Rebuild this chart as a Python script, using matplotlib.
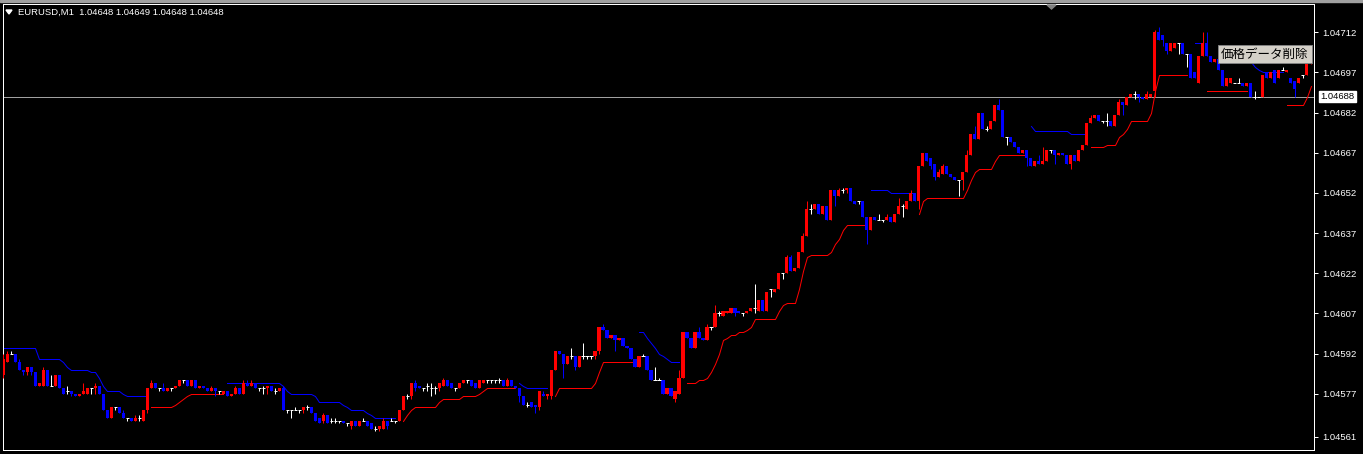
import matplotlib
matplotlib.use("Agg")
import matplotlib.pyplot as plt
import numpy as np
from matplotlib.patches import Polygon, Rectangle
from matplotlib.transforms import Affine2D

# ---------------- data (EURUSD M1 candles) ----------------
open_ = [
1.04584,1.04589,1.04592,1.04592,1.04589,1.04586,1.04585,1.04587,1.04585,1.04580,
1.04580,1.04586,1.04580,1.04580,1.04584,1.04579,1.04578,1.04578,1.04577,1.04576,
1.04577,1.04577,1.04579,1.04579,1.04580,1.04577,1.04571,1.04568,1.04572,1.04572,
1.04570,1.04568,1.04568,1.04567,1.04568,1.04567,1.04571,1.04579,1.04581,1.04579,
1.04579,1.04578,1.04579,1.04579,1.04580,1.04582,1.04582,1.04580,1.04582,1.04579,
1.04580,1.04579,1.04578,1.04579,1.04578,1.04577,1.04578,1.04576,1.04577,1.04579,
1.04577,1.04581,1.04580,1.04581,1.04579,1.04579,1.04579,1.04580,1.04578,1.04578,
1.04579,1.04571,1.04571,1.04571,1.04571,1.04571,1.04572,1.04572,1.04570,1.04568,
1.04567,1.04569,1.04567,1.04567,1.04567,1.04567,1.04566,1.04565,1.04567,1.04565,
1.04567,1.04567,1.04566,1.04564,1.04564,1.04564,1.04567,1.04567,1.04567,1.04567,
1.04571,1.04576,1.04576,1.04581,1.04580,1.04579,1.04580,1.04579,1.04579,1.04579,
1.04580,1.04582,1.04581,1.04579,1.04579,1.04581,1.04582,1.04582,1.04581,1.04579,
1.04581,1.04582,1.04582,1.04582,1.04582,1.04582,1.04580,1.04582,1.04580,1.04579,
1.04576,1.04573,1.04574,1.04573,1.04572,1.04577,1.04576,1.04576,1.04586,1.04593,
1.04592,1.04588,1.04591,1.04591,1.04587,1.04591,1.04591,1.04591,1.04591,1.04593,
1.04602,1.04601,1.04598,1.04599,1.04597,1.04598,1.04595,1.04594,1.04590,1.04587,
1.04591,1.04591,1.04586,1.04582,1.04582,1.04582,1.04577,1.04579,1.04575,1.04577,
1.04583,1.04600,1.04598,1.04594,1.04600,1.04598,1.04597,1.04602,1.04602,1.04607,
1.04606,1.04607,1.04607,1.04609,1.04608,1.04607,1.04607,1.04608,1.04609,1.04608,
1.04612,1.04608,1.04616,1.04615,1.04616,1.04622,1.04622,1.04628,1.04623,1.04624,
1.04630,1.04636,1.04646,1.04646,1.04648,1.04644,1.04647,1.04642,1.04653,1.04651,
1.04653,1.04653,1.04654,1.04649,1.04649,1.04649,1.04643,1.04638,1.04643,1.04642,
1.04642,1.04642,1.04643,1.04641,1.04644,1.04647,1.04646,1.04649,1.04652,1.04649,
1.04662,1.04667,1.04665,1.04663,1.04658,1.04659,1.04662,1.04659,1.04658,1.04657,
1.04657,1.04660,1.04666,1.04674,1.04672,1.04682,1.04676,1.04676,1.04679,1.04685,
1.04683,1.04673,1.04673,1.04671,1.04669,1.04667,1.04668,1.04665,1.04662,1.04664,
1.04663,1.04664,1.04668,1.04668,1.04666,1.04667,1.04666,1.04663,1.04666,1.04664,
1.04668,1.04670,1.04678,1.04680,1.04681,1.04679,1.04679,1.04679,1.04677,1.04681,
1.04686,1.04685,1.04688,1.04689,1.04689,1.04688,1.04687,1.04688,1.04690,1.04712,
1.04711,1.04708,1.04705,1.04706,1.04708,1.04708,1.04704,1.04704,1.04697,1.04693,
1.04703,1.04708,1.04703,1.04701,1.04702,1.04698,1.04692,1.04693,1.04693,1.04693,
1.04693,1.04692,1.04693,1.04688,1.04688,1.04688,1.04697,1.04695,1.04698,1.04695,
1.04698,1.04697,1.04695,1.04694,1.04693,1.04696,1.04696,1.04700,
]
high = [
1.04592,1.04593,1.04593,1.04592,1.04590,1.04586,1.04587,1.04587,1.04585,1.04581,
1.04587,1.04586,1.04584,1.04584,1.04584,1.04579,1.04580,1.04578,1.04577,1.04577,
1.04581,1.04579,1.04579,1.04581,1.04580,1.04577,1.04571,1.04572,1.04572,1.04572,
1.04571,1.04568,1.04568,1.04569,1.04569,1.04571,1.04579,1.04582,1.04581,1.04579,
1.04581,1.04579,1.04579,1.04580,1.04582,1.04582,1.04582,1.04582,1.04582,1.04580,
1.04580,1.04579,1.04580,1.04579,1.04578,1.04578,1.04578,1.04577,1.04580,1.04579,
1.04582,1.04582,1.04582,1.04581,1.04579,1.04580,1.04580,1.04580,1.04579,1.04579,
1.04580,1.04571,1.04571,1.04572,1.04571,1.04572,1.04573,1.04572,1.04570,1.04568,
1.04570,1.04569,1.04568,1.04568,1.04567,1.04567,1.04566,1.04567,1.04567,1.04567,
1.04568,1.04567,1.04566,1.04565,1.04565,1.04568,1.04567,1.04568,1.04567,1.04571,
1.04576,1.04577,1.04581,1.04582,1.04580,1.04579,1.04581,1.04581,1.04580,1.04581,
1.04583,1.04582,1.04581,1.04579,1.04581,1.04582,1.04582,1.04582,1.04581,1.04582,
1.04582,1.04582,1.04582,1.04582,1.04583,1.04582,1.04583,1.04582,1.04580,1.04579,
1.04576,1.04574,1.04574,1.04573,1.04578,1.04578,1.04577,1.04586,1.04593,1.04593,
1.04592,1.04591,1.04594,1.04591,1.04591,1.04596,1.04591,1.04591,1.04593,1.04602,
1.04603,1.04601,1.04599,1.04599,1.04598,1.04598,1.04595,1.04594,1.04590,1.04591,
1.04592,1.04591,1.04586,1.04587,1.04583,1.04582,1.04579,1.04579,1.04578,1.04586,
1.04600,1.04600,1.04598,1.04600,1.04602,1.04598,1.04603,1.04602,1.04610,1.04608,
1.04608,1.04608,1.04609,1.04609,1.04608,1.04607,1.04608,1.04609,1.04618,1.04612,
1.04612,1.04615,1.04616,1.04616,1.04622,1.04622,1.04629,1.04629,1.04624,1.04630,
1.04637,1.04649,1.04648,1.04648,1.04648,1.04647,1.04647,1.04653,1.04653,1.04654,
1.04654,1.04654,1.04654,1.04649,1.04649,1.04649,1.04643,1.04643,1.04643,1.04644,
1.04642,1.04644,1.04643,1.04644,1.04650,1.04648,1.04649,1.04653,1.04652,1.04662,
1.04667,1.04667,1.04665,1.04663,1.04661,1.04663,1.04662,1.04659,1.04658,1.04657,
1.04660,1.04668,1.04674,1.04677,1.04682,1.04682,1.04677,1.04679,1.04685,1.04687,
1.04683,1.04673,1.04673,1.04671,1.04669,1.04668,1.04668,1.04665,1.04664,1.04666,
1.04669,1.04668,1.04668,1.04668,1.04667,1.04667,1.04666,1.04666,1.04666,1.04668,
1.04670,1.04678,1.04681,1.04681,1.04681,1.04679,1.04682,1.04679,1.04681,1.04687,
1.04686,1.04688,1.04689,1.04690,1.04689,1.04688,1.04690,1.04689,1.04713,1.04714,
1.04711,1.04708,1.04708,1.04708,1.04708,1.04708,1.04704,1.04704,1.04697,1.04703,
1.04712,1.04712,1.04703,1.04702,1.04702,1.04698,1.04695,1.04695,1.04693,1.04695,
1.04693,1.04693,1.04693,1.04690,1.04688,1.04696,1.04697,1.04697,1.04698,1.04698,
1.04699,1.04698,1.04695,1.04694,1.04695,1.04696,1.04700,1.04704,
]
low = [
1.04583,1.04589,1.04592,1.04589,1.04586,1.04584,1.04584,1.04584,1.04580,1.04580,
1.04580,1.04580,1.04580,1.04580,1.04579,1.04577,1.04577,1.04576,1.04576,1.04576,
1.04577,1.04577,1.04577,1.04577,1.04577,1.04571,1.04568,1.04568,1.04571,1.04570,
1.04568,1.04567,1.04567,1.04567,1.04567,1.04567,1.04570,1.04579,1.04579,1.04578,
1.04578,1.04578,1.04578,1.04579,1.04580,1.04581,1.04580,1.04580,1.04579,1.04579,
1.04579,1.04578,1.04578,1.04576,1.04577,1.04577,1.04576,1.04576,1.04577,1.04577,
1.04577,1.04580,1.04580,1.04579,1.04578,1.04577,1.04577,1.04578,1.04577,1.04578,
1.04571,1.04570,1.04568,1.04571,1.04570,1.04570,1.04571,1.04570,1.04567,1.04566,
1.04566,1.04566,1.04566,1.04566,1.04566,1.04566,1.04565,1.04564,1.04565,1.04565,
1.04567,1.04565,1.04564,1.04563,1.04563,1.04564,1.04564,1.04567,1.04566,1.04567,
1.04571,1.04575,1.04575,1.04578,1.04579,1.04578,1.04578,1.04576,1.04577,1.04578,
1.04580,1.04580,1.04579,1.04578,1.04579,1.04581,1.04581,1.04580,1.04579,1.04579,
1.04581,1.04581,1.04581,1.04581,1.04581,1.04580,1.04580,1.04580,1.04579,1.04574,
1.04573,1.04572,1.04572,1.04570,1.04571,1.04576,1.04575,1.04575,1.04586,1.04592,
1.04583,1.04588,1.04590,1.04586,1.04587,1.04590,1.04590,1.04590,1.04590,1.04592,
1.04601,1.04598,1.04598,1.04593,1.04597,1.04595,1.04594,1.04590,1.04587,1.04587,
1.04591,1.04586,1.04582,1.04582,1.04582,1.04577,1.04577,1.04576,1.04574,1.04577,
1.04583,1.04598,1.04594,1.04594,1.04598,1.04597,1.04597,1.04601,1.04602,1.04606,
1.04606,1.04607,1.04607,1.04606,1.04607,1.04606,1.04607,1.04608,1.04607,1.04608,
1.04608,1.04608,1.04613,1.04615,1.04616,1.04620,1.04622,1.04623,1.04623,1.04624,
1.04630,1.04636,1.04644,1.04646,1.04644,1.04644,1.04642,1.04642,1.04647,1.04651,
1.04652,1.04652,1.04649,1.04648,1.04648,1.04643,1.04633,1.04638,1.04642,1.04642,
1.04641,1.04642,1.04641,1.04641,1.04644,1.04643,1.04646,1.04649,1.04649,1.04646,
1.04662,1.04664,1.04661,1.04657,1.04658,1.04659,1.04659,1.04658,1.04657,1.04651,
1.04653,1.04660,1.04666,1.04672,1.04672,1.04676,1.04675,1.04676,1.04679,1.04683,
1.04673,1.04670,1.04671,1.04669,1.04667,1.04667,1.04662,1.04662,1.04662,1.04663,
1.04663,1.04664,1.04667,1.04663,1.04666,1.04666,1.04663,1.04661,1.04664,1.04664,
1.04668,1.04670,1.04678,1.04680,1.04679,1.04678,1.04677,1.04677,1.04677,1.04681,
1.04681,1.04685,1.04688,1.04687,1.04686,1.04687,1.04687,1.04688,1.04688,1.04709,
1.04707,1.04704,1.04705,1.04706,1.04704,1.04704,1.04699,1.04695,1.04695,1.04693,
1.04703,1.04703,1.04701,1.04701,1.04698,1.04692,1.04692,1.04693,1.04693,1.04693,
1.04692,1.04692,1.04688,1.04687,1.04688,1.04688,1.04695,1.04695,1.04693,1.04695,
1.04698,1.04697,1.04693,1.04688,1.04693,1.04695,1.04696,1.04700,
]
close = [
1.04590,1.04592,1.04592,1.04589,1.04586,1.04585,1.04587,1.04585,1.04580,1.04581,
1.04586,1.04580,1.04580,1.04584,1.04579,1.04577,1.04578,1.04577,1.04576,1.04577,
1.04578,1.04579,1.04579,1.04580,1.04577,1.04571,1.04568,1.04572,1.04572,1.04570,
1.04568,1.04568,1.04567,1.04568,1.04568,1.04571,1.04579,1.04581,1.04579,1.04579,
1.04578,1.04579,1.04579,1.04580,1.04582,1.04582,1.04580,1.04582,1.04579,1.04580,
1.04579,1.04578,1.04579,1.04578,1.04578,1.04578,1.04576,1.04577,1.04579,1.04577,
1.04581,1.04580,1.04581,1.04579,1.04579,1.04579,1.04580,1.04578,1.04578,1.04579,
1.04571,1.04571,1.04571,1.04571,1.04571,1.04572,1.04572,1.04570,1.04567,1.04566,
1.04569,1.04566,1.04567,1.04567,1.04567,1.04566,1.04566,1.04567,1.04565,1.04567,
1.04567,1.04565,1.04564,1.04564,1.04565,1.04567,1.04565,1.04567,1.04567,1.04571,
1.04576,1.04576,1.04581,1.04579,1.04579,1.04579,1.04580,1.04579,1.04579,1.04581,
1.04582,1.04580,1.04579,1.04579,1.04581,1.04582,1.04582,1.04580,1.04579,1.04582,
1.04582,1.04582,1.04582,1.04582,1.04582,1.04580,1.04582,1.04580,1.04579,1.04576,
1.04573,1.04573,1.04572,1.04572,1.04578,1.04576,1.04577,1.04586,1.04593,1.04592,
1.04588,1.04591,1.04591,1.04587,1.04591,1.04591,1.04591,1.04591,1.04593,1.04602,
1.04601,1.04598,1.04599,1.04597,1.04598,1.04595,1.04594,1.04590,1.04587,1.04591,
1.04591,1.04586,1.04582,1.04582,1.04582,1.04577,1.04579,1.04576,1.04578,1.04583,
1.04600,1.04598,1.04594,1.04600,1.04598,1.04597,1.04602,1.04602,1.04607,1.04607,
1.04608,1.04608,1.04609,1.04607,1.04607,1.04607,1.04608,1.04609,1.04609,1.04612,
1.04608,1.04615,1.04616,1.04616,1.04622,1.04622,1.04628,1.04623,1.04624,1.04630,
1.04636,1.04646,1.04646,1.04648,1.04644,1.04647,1.04642,1.04653,1.04651,1.04653,
1.04653,1.04654,1.04649,1.04648,1.04649,1.04643,1.04638,1.04643,1.04642,1.04642,
1.04642,1.04643,1.04641,1.04644,1.04647,1.04647,1.04649,1.04652,1.04649,1.04662,
1.04667,1.04664,1.04662,1.04658,1.04660,1.04662,1.04659,1.04658,1.04657,1.04657,
1.04660,1.04666,1.04674,1.04672,1.04682,1.04676,1.04676,1.04679,1.04685,1.04683,
1.04673,1.04673,1.04671,1.04669,1.04667,1.04668,1.04665,1.04662,1.04664,1.04663,
1.04664,1.04668,1.04668,1.04666,1.04667,1.04666,1.04663,1.04666,1.04664,1.04668,
1.04670,1.04678,1.04680,1.04681,1.04679,1.04679,1.04679,1.04677,1.04681,1.04686,
1.04685,1.04688,1.04689,1.04689,1.04688,1.04687,1.04689,1.04689,1.04712,1.04709,
1.04709,1.04705,1.04708,1.04708,1.04708,1.04704,1.04704,1.04695,1.04695,1.04703,
1.04708,1.04703,1.04701,1.04702,1.04698,1.04692,1.04695,1.04695,1.04693,1.04693,
1.04692,1.04693,1.04688,1.04688,1.04688,1.04696,1.04695,1.04697,1.04693,1.04698,
1.04698,1.04698,1.04693,1.04691,1.04695,1.04696,1.04700,1.04704,
]

# trailing-stop indicator: segments (first bar index, values)
blue_starts = [0, 56, 129, 159, 217, 257, 298, 312]
blue_values = [
    [1.04594]*9 + [1.04590]*6 + [1.04589, 1.04587] + [1.04586]*5 + [1.04585]*2
    + [1.04583, 1.04580] + [1.04578]*4 + [1.04577] + [1.04576]*6,
    [1.04581]*14 + [1.04580, 1.04578] + [1.04577]*6 + [1.04576] + [1.04574]*6
    + [1.04573, 1.04572] + [1.04571]*4 + [1.04570, 1.04569] + [1.04568]*6,
    [1.04581, 1.04580] + [1.04579]*6,
    [1.04600, 1.04600, 1.04598, 1.04596, 1.04594, 1.04592, 1.04591, 1.04590,
     1.04589, 1.04589, 1.04589],
    [1.04653]*5 + [1.04652]*7,
    [1.04677] + [1.04675]*9 + [1.04674]*5,
    [1.04708]*3,
    [1.04701, 1.04699, 1.04698] + [1.04697]*6,
]
red_starts = [37, 100, 138, 171, 229, 272, 301, 321]
red_values = [
    [1.04572]*6 + [1.04573, 1.04574, 1.04575, 1.04576] + [1.04577]*9,
    [1.04567, 1.04569, 1.04571] + [1.04572]*6 + [1.04574] + [1.04575]*5
    + [1.04576]*4 + [1.04577, 1.04578] + [1.04579]*8,
    [1.04576] + [1.04579]*9 + [1.04581, 1.04585] + [1.04589]*9,
    [1.04581]*3 + [1.04582]*2 + [1.04583, 1.04585, 1.04588, 1.04592, 1.04597,
     1.04598, 1.04599, 1.04599, 1.04600, 1.04600, 1.04601, 1.04602] + [1.04605]*6
    + [1.04608, 1.04610] + [1.04611]*3 + [1.04616, 1.04623, 1.04628] + [1.04629]*5
    + [1.04630, 1.04633, 1.04635, 1.04638] + [1.04640]*6,
    [1.04644, 1.04649] + [1.04650]*10 + [1.04653, 1.04657, 1.04660] + [1.04661]*4
    + [1.04664] + [1.04666]*8,
    [1.04669]*4 + [1.04670]*3 + [1.04673, 1.04674, 1.04676] + [1.04679]*5
    + [1.04682, 1.04690] + [1.04696]*8,
    [1.04690]*11,
    [1.04685]*5 + [1.04688, 1.04692],
]

price_ticks = ['1.04712', '1.04697', '1.04682', '1.04667', '1.04652', '1.04637',
               '1.04622', '1.04607', '1.04592', '1.04577', '1.04561']
current_price = 1.04688
header = 'EURUSD,M1  1.04648 1.04649 1.04648 1.04648'
label_text = '価格データ削除'

# ---------------- figure ----------------
W, H = 1363, 454
fig = plt.figure(figsize=(W / 100, H / 100), dpi=100, facecolor='black')
PX = Affine2D().scale(1, -1).translate(0, H)   # pixel (from top-left) -> display


def px_axes(x0, y0, x1, y1):
    return fig.add_axes([x0 / W, 1 - y1 / H, (x1 - x0) / W, (y1 - y0) / H])


ax = px_axes(3, 4, 1314, 450)
ax.set_facecolor('black')

o = np.array(open_)
h = np.array(high)
l = np.array(low)
c = np.array(close)
n = len(c)
idx = np.arange(n)

ax.set_xlim(-0.125, n - 0.125)
ax.set_ylim(1.0455602, 1.0472257)

up = c > o
dn = c < o
dj = ~(up | dn)
cols = np.where(up, '#ff0000', np.where(dn, '#0000ff', '#ffffff'))
LW = 0.72

# current price line (behind candles)
ax.axhline(current_price, color='#a0a0a0', lw=LW, snap=True, zorder=1)

ax.vlines(idx, l, h, colors=cols, lw=LW, snap=True, zorder=3)
body = ~dj
ax.bar(idx[body], (c - o)[body], bottom=o[body], width=0.78, color=cols[body],
       linewidth=0, antialiased=False, zorder=4)
ax.hlines(o[dj], idx[dj] - 0.39, idx[dj] + 0.39, colors='#ffffff', lw=LW,
          snap=True, zorder=4)

for s, vals in zip(blue_starts, blue_values):
    ax.plot(np.arange(s, s + len(vals)), vals, color='#0000ff', lw=LW,
            snap=True, zorder=2)
for s, vals in zip(red_starts, red_values):
    ax.plot(np.arange(s, s + len(vals)), vals, color='#ff0000', lw=LW,
            snap=True, zorder=2)

for side in ['left', 'top', 'bottom', 'right']:
    ax.spines[side].set_color('white')
    ax.spines[side].set_linewidth(0.72)
ax.set_xticks([])
ax.yaxis.tick_right()
ax.set_yticks([float(t) for t in price_ticks])
ax.set_yticklabels(price_ticks)
ax.tick_params(axis='y', colors='white', length=3, width=0.72, pad=3,
               labelsize=6.8, labelcolor='white')
for t in ax.get_yticklabels():
    t.set_family('Liberation Sans')

# current price label
ax.annotate(f'{current_price:.5f}', xy=(1, current_price),
            xycoords=('axes fraction', 'data'), xytext=(6, 0),
            textcoords='offset pixels', ha='left', va='center',
            fontsize=6.8, family='Liberation Sans', color='black',
            bbox=dict(boxstyle='square,pad=0.15', fc='white', ec='white'),
            annotation_clip=False, zorder=10)

# window frame line on top
fig.patches.append(Rectangle((0, 0), W, 2, transform=PX, color='#a0a0a0', zorder=0))

# header
fig.patches.append(Polygon([(6, 10), (12, 10), (9, 14)], closed=True, transform=PX,
                           color='white'))
fig.text(18 / W, 1 - 12.5 / H, header, color='white', fontsize=6.8,
         family='Liberation Sans', va='center', ha='left')

# shift marker on top
fig.patches.append(Polygon([(1047, 5), (1056, 5), (1051.5, 9)], closed=True,
                           transform=PX, color='#808080'))

# label object
fig.patches.append(Rectangle((1218, 45), 94, 18, transform=PX, facecolor='#d4d0c8',
                             edgecolor='#808080', lw=0.72, zorder=20))
fig.text(1265 / W, 1 - 54.5 / H, label_text, color='black', fontsize=9,
         family=['Noto Sans CJK JP', 'DejaVu Sans'], ha='center', va='center',
         zorder=21)

fig.savefig('out.png', dpi=100, facecolor='black')
